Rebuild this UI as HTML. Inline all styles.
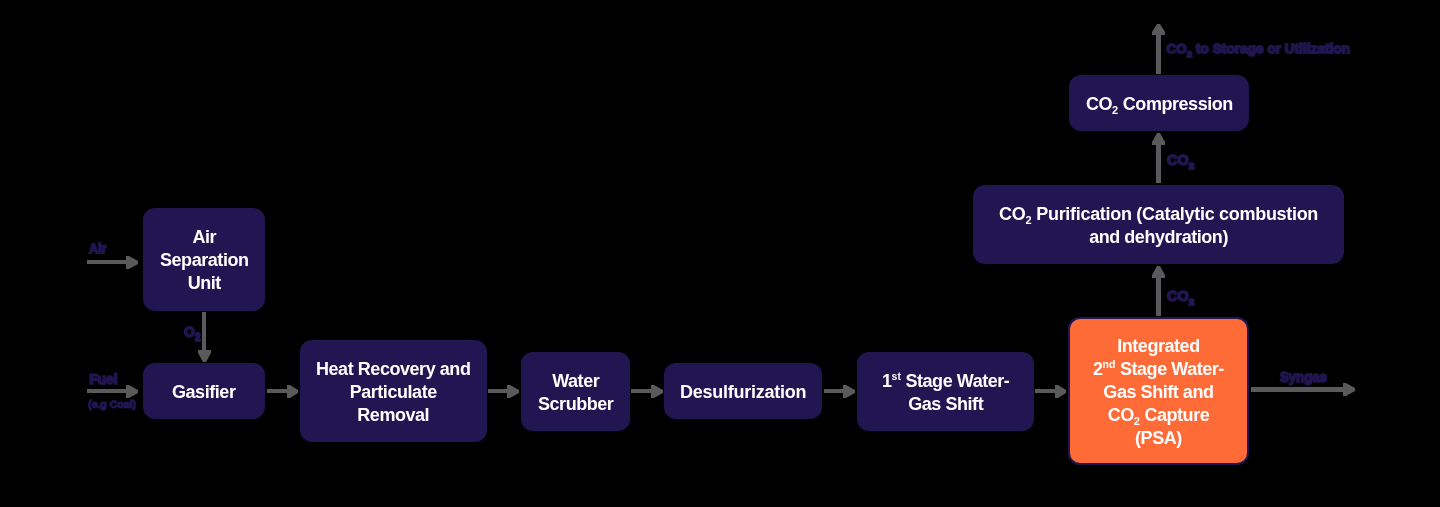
<!DOCTYPE html>
<html><head><meta charset="utf-8">
<style>
html,body{margin:0;padding:0;background:#000;}
body{width:1440px;height:507px;position:relative;overflow:hidden;font-family:"Liberation Sans",sans-serif;}
.b{position:absolute;box-sizing:border-box;background:#221652;border-radius:12px;color:#fff;font-weight:bold;font-size:18px;line-height:23px;text-align:center;display:flex;align-items:center;justify-content:center;white-space:nowrap;}
.b span{display:block;letter-spacing:-0.45px;position:relative;top:1.3px;will-change:transform;}
.o{background:#FE6B37;border:2px solid #221652;}
.b sub{font-size:11px;vertical-align:baseline;position:relative;top:4px;line-height:0;letter-spacing:0;}
.b sup{font-size:10.5px;vertical-align:baseline;position:relative;top:-7px;line-height:0;letter-spacing:0;}
.l{position:absolute;left:0;top:0;color:#221652;font-weight:bold;font-size:14px;line-height:14px;white-space:nowrap;-webkit-text-stroke:1.8px #221652;transform-origin:0 0;will-change:transform;}
.l sub{font-size:9.80px;vertical-align:baseline;position:relative;top:3.50px;line-height:0;}
svg{position:absolute;left:0;top:0;}
</style></head><body>
<svg width="1440" height="507" viewBox="0 0 1440 507"><g fill="#5a5a5c">
<rect x="87" y="260" width="40" height="4"/><polygon points="126,256 129,256 138,261.0 138,264.0 129,269 126,269"/>
<rect x="87" y="389" width="40" height="4"/><polygon points="126,385 129,385 138,390.0 138,393.0 129,398 126,398"/>
<rect x="202" y="312" width="4" height="39"/><polygon points="198,350 211,350 211,353 206.0,362 203.0,362 198,353"/>
<rect x="267" y="389" width="21" height="4"/><polygon points="287,385 290,385 298,390.0 298,393.0 290,398 287,398"/>
<rect x="488" y="389" width="20" height="4"/><polygon points="507,385 510,385 519,390.0 519,393.0 510,398 507,398"/>
<rect x="631" y="389" width="21" height="4"/><polygon points="651,385 654,385 663,390.0 663,393.0 654,398 651,398"/>
<rect x="824" y="389" width="20" height="4"/><polygon points="843,385 846,385 855,390.0 855,393.0 846,398 843,398"/>
<rect x="1035" y="389" width="21" height="4"/><polygon points="1055,385 1058,385 1066,390.0 1066,393.0 1058,398 1055,398"/>
<rect x="1251" y="387" width="93" height="5"/><polygon points="1343,383 1346,383 1355,388.0 1355,391.0 1346,396 1343,396"/>
<rect x="1156" y="277" width="5" height="39"/><polygon points="1152,278 1152,275 1157.0,266 1160.0,266 1165,275 1165,278"/>
<rect x="1156" y="144" width="5" height="39"/><polygon points="1152,145 1152,142 1157.0,133 1160.0,133 1165,142 1165,145"/>
<rect x="1156" y="34" width="5" height="40"/><polygon points="1152,35 1152,32 1157.0,24 1160.0,24 1165,32 1165,35"/>
</g></svg>
<div class="b" style="left:143px;top:208px;width:122px;height:103px;"><span>Air<br>Separation<br>Unit</span></div>
<div class="b" style="left:143px;top:363px;width:122px;height:56px;"><span>Gasifier</span></div>
<div class="b" style="left:300px;top:340px;width:187px;height:102px;"><span>Heat Recovery and<br>Particulate<br>Removal</span></div>
<div class="b" style="left:521px;top:352px;width:109px;height:79px;"><span>Water<br>Scrubber</span></div>
<div class="b" style="left:664px;top:363px;width:158px;height:56px;"><span><span style="letter-spacing:-0.25px;top:0">Desulfurization</span></span></div>
<div class="b" style="left:857px;top:352px;width:177px;height:79px;"><span>1<sup>st</sup> Stage Water-<br>Gas Shift</span></div>
<div class="b o" style="left:1068px;top:317px;width:181px;height:148px;"><span>Integrated<br>2<sup>nd</sup> Stage Water-<br>Gas Shift and<br>CO<sub>2</sub> Capture<br>(PSA)</span></div>
<div class="b" style="left:973px;top:185px;width:371px;height:79px;"><span><span style="letter-spacing:-0.3px;top:0;display:inline">CO<sub>2</sub> Purification (Catalytic combustion</span><br>and dehydration)</span></div>
<div class="b" style="left:1069px;top:75px;width:180px;height:56px;"><span>CO<sub>2</sub> Compression</span></div>
<div class="l" style="transform:translate(88.90px,242.00px) scale(0.905,0.923);">Air</div>
<div class="l" style="transform:translate(89.40px,372.50px) scale(0.972,0.946);">Fuel</div>
<div class="l" style="transform:translate(88.10px,399.30px) scale(0.752,0.706);">(e.g Coal)</div>
<div class="l" style="transform:translate(184.00px,323.84px) scale(0.994,1.056);">O<sub>2</sub></div>
<div class="l" style="transform:translate(1167.00px,289.01px) scale(1.030,0.988);">CO<sub>2</sub></div>
<div class="l" style="transform:translate(1167.00px,153.01px) scale(1.030,0.988);">CO<sub>2</sub></div>
<div class="l" style="transform:translate(1166.30px,42.20px) scale(0.976,0.918);">CO<sub>2</sub> to Storage or Utilization</div>
<div class="l" style="transform:translate(1280.04px,370.23px) scale(0.939,0.967);">Syngas</div>
</body></html>
